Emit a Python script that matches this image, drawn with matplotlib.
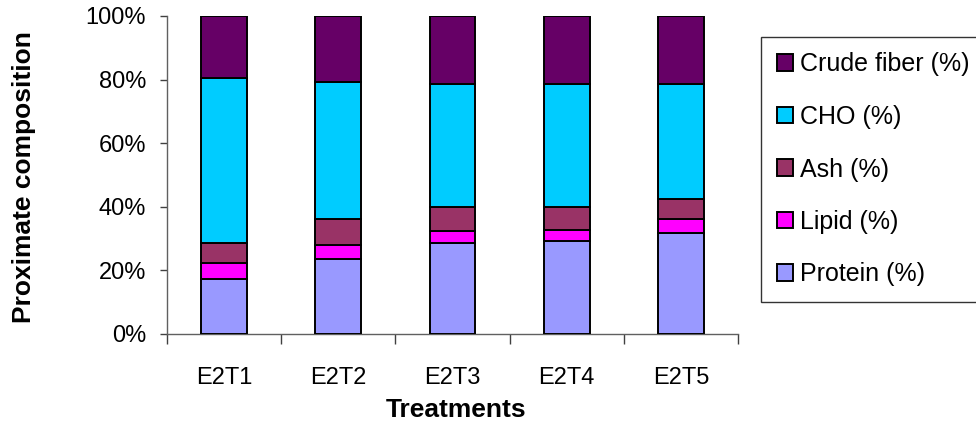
import matplotlib
matplotlib.use("Agg")
import matplotlib.pyplot as plt
import numpy as np
from matplotlib.ticker import FuncFormatter

plt.rcParams['font.family'] = ['Liberation Sans', 'DejaVu Sans']

treatments = ["E2T1", "E2T2", "E2T3", "E2T4", "E2T5"]
protein = [17.3, 23.6, 28.6, 29.2, 31.7]
lipid = [4.9, 4.3, 3.9, 3.6, 4.4]
ash = [6.5, 8.3, 7.4, 7.0, 6.3]
cho = [51.8, 43.1, 38.7, 38.9, 36.3]
crude_fiber = [19.5, 20.7, 21.4, 21.3, 21.3]

series = [
    ("Protein (%)", protein, "#9999FF"),
    ("Lipid (%)", lipid, "#FF00FF"),
    ("Ash (%)", ash, "#993366"),
    ("CHO (%)", cho, "#00CCFF"),
    ("Crude fiber (%)", crude_fiber, "#660066"),
]

fig = plt.figure(figsize=(9.76, 4.34), dpi=100)
ax = fig.add_axes([167 / 976, 1 - 334 / 434, (738 - 167) / 976, (334 - 16) / 434])

x = np.arange(len(treatments))
totals = np.sum([np.array(v, dtype=float) for _, v, _ in series], axis=0)
bottom = np.zeros(len(treatments))
handles = []
for name, vals, color in series:
    frac = np.array(vals, dtype=float) / totals
    h = ax.bar(x, frac, 0.4, bottom=bottom, color=color, edgecolor="black",
               linewidth=1.4, label=name, zorder=3)
    handles.append(h)
    bottom += frac

ax.set_xlim(-0.5, len(treatments) - 0.5)
ax.set_ylim(0, 1)
ax.set_yticks(np.linspace(0, 1, 6))
ax.yaxis.set_major_formatter(FuncFormatter(lambda v, p: f"{v * 100:.0f}%"))

ax.set_xticks(np.arange(-0.5, len(treatments), 1.0))
ax.set_xticklabels([])
ax.set_xticks(x, minor=True)
ax.set_xticklabels(treatments, minor=True)

for s in ("top", "right"):
    ax.spines[s].set_visible(False)
for s in ("left", "bottom"):
    ax.spines[s].set_color("#606060")
    ax.spines[s].set_linewidth(1.0)

ax.tick_params(axis="y", which="major", direction="out", length=5, width=1,
               color="#404040", labelsize=17, pad=10)
ax.tick_params(axis="x", which="major", direction="out", length=7, width=1,
               color="#404040")
ax.tick_params(axis="x", which="minor", length=0, labelsize=17, pad=24)

fig.text(24 / 976, 1 - 177 / 434, "Proximate composition", rotation=90,
         ha="center", va="center", fontsize=19, fontweight="bold")
fig.text(456 / 976, 1 - 410 / 434, "Treatments",
         ha="center", va="center", fontsize=19, fontweight="bold")

leg = fig.legend(handles[::-1], [s[0] for s in series][::-1],
                 loc="upper left", bbox_to_anchor=(761 / 976, 1 - 37 / 434),
                 fontsize=18, frameon=True, fancybox=False, edgecolor="black",
                 handlelength=0.64, handleheight=0.64, handletextpad=0.3,
                 labelspacing=1.14, borderpad=0.62, borderaxespad=0)
leg.get_frame().set_linewidth(1.0)
for patch in leg.get_patches():
    patch.set_linewidth(1.4)

fig.savefig("out.png", dpi=100)
